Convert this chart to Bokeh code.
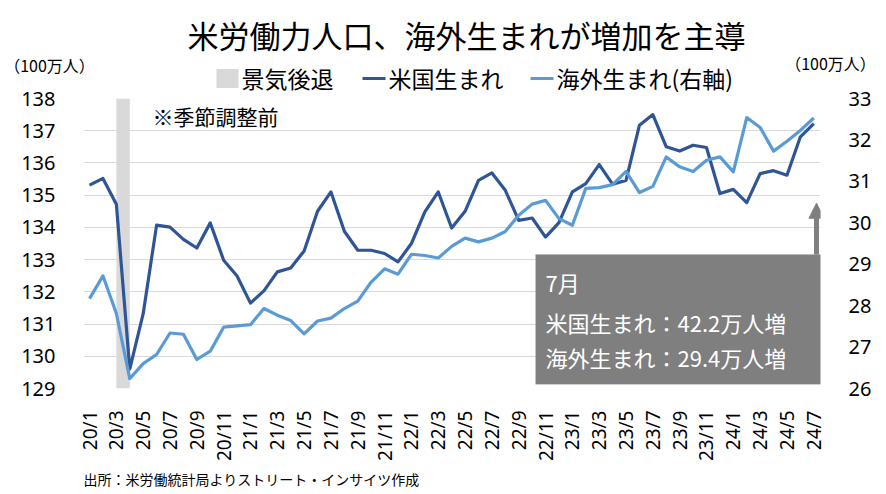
from bokeh.plotting import figure
from bokeh.models import (Range1d, LinearAxis, FixedTicker, Label,
                          BoxAnnotation, Arrow, NormalHead)
from bokeh.core.properties import value
from bokeh.embed import file_html
from bokeh.resources import INLINE

# ---------------- data ----------------
months = list(range(55))  # 2020/1 .. 2024/7 (monthly index)
tick_pos = list(range(0, 55, 2))
tick_labels = ["20/1", "20/3", "20/5", "20/7", "20/9", "20/11",
               "21/1", "21/3", "21/5", "21/7", "21/9", "21/11",
               "22/1", "22/3", "22/5", "22/7", "22/9", "22/11",
               "23/1", "23/3", "23/5", "23/7", "23/9", "23/11",
               "24/1", "24/3", "24/5", "24/7"]

us_born = [135.31, 135.52, 134.72, 129.60, 131.32, 134.07, 134.01, 133.63, 133.36, 134.14,
           132.98, 132.49, 131.65, 132.03, 132.62, 132.74, 133.27, 134.50, 135.10, 133.88,
           133.29, 133.29, 133.19, 132.93, 133.50, 134.48, 135.10, 133.98, 134.50, 135.46,
           135.69, 135.15, 134.22, 134.29, 133.70, 134.15, 135.10, 135.36, 135.95, 135.34,
           135.46, 137.17, 137.50, 136.50, 136.37, 136.55, 136.48, 135.05, 135.18, 134.77,
           135.67, 135.76, 135.62, 136.81, 137.22]

foreign_born = [28.17, 28.72, 27.81, 26.24, 26.60, 26.82, 27.34, 27.31, 26.70, 26.90,
                27.48, 27.51, 27.54, 27.93, 27.77, 27.64, 27.32, 27.63, 27.70, 27.93,
                28.11, 28.57, 28.89, 28.76, 29.24, 29.21, 29.15, 29.43, 29.63, 29.54,
                29.63, 29.79, 30.18, 30.45, 30.54, 30.10, 29.94, 30.83, 30.85, 30.92,
                31.24, 30.73, 30.88, 31.59, 31.35, 31.24, 31.51, 31.59, 31.23, 32.54,
                32.30, 31.73, 31.97, 32.23, 32.53]

recession_start = [2]   # 2020/3
recession_end = [3]     # 2020/4

left_ticks = [129, 130, 131, 132, 133, 134, 135, 136, 137, 138]
right_ticks = [26, 27, 28, 29, 30, 31, 32, 33]

title_text = "米労働力人口、海外生まれが増加を主導"
unit_text = "（100万人）"
legend_labels = ["景気後退", "米国生まれ", "海外生まれ(右軸)"]
note_text = "※季節調整前"
box_lines = ["7月", "米国生まれ：42.2万人増", "海外生まれ：29.4万人増"]
source_text = "出所：米労働統計局よりストリート・インサイツ作成"

# ---------------- style ----------------
DARK = "#2f5597"
LIGHT = "#5b9bd5"
GRAY_BAND = "#d9d9d9"
GRID = "#d9d9d9"
BOX = "#7f7f7f"
JP = "Noto Sans CJK JP"
NUM = "Noto Sans"
W = 886
TOP_H = 100          # header canvas (0..100)
OVERLAP = 30         # main canvas starts at y=70 (transparent border over header)
MAIN_TOP = TOP_H - OVERLAP
BOT_H = 30
MAIN_H = 494 - MAIN_TOP - BOT_H


def blank(h):
    f = figure(width=W, height=h, output_backend="svg", toolbar_location=None,
               x_range=Range1d(0, W), y_range=Range1d(h, 0),
               x_axis_type=None, y_axis_type=None,
               min_border=0, min_border_left=0, min_border_right=0,
               min_border_top=0, min_border_bottom=0)
    f.outline_line_color = None
    f.grid.visible = False
    return f


# ---------------- header (title, units, legend) ----------------
top = blank(TOP_H)
top.text(x=[466], y=[34], text=[title_text], text_font=value(JP), text_font_size=value("31px"),
         text_color="#000000", text_align="center", text_baseline="middle")
top.text(x=[49, 830], y=[64, 62], text=[unit_text, unit_text], text_font=value(JP),
         text_font_size=value("16px"), text_color="#000000", text_align="center",
         text_baseline="middle")
top.rect(x=[227], y=[78], width=22, height=19, fill_color=GRAY_BAND, line_color=None)
top.line(x=[362, 385], y=[78, 78], line_color=DARK, line_width=3.2)
top.line(x=[530, 553], y=[78, 78], line_color=LIGHT, line_width=3.2)
top.text(x=[241, 388, 556], y=[77, 77, 77], text=legend_labels, text_font=value(JP),
         text_font_size=value("23px"), text_color="#000000", text_align="left",
         text_baseline="middle")

# ---------------- main chart ----------------
p = figure(width=W, height=MAIN_H, output_backend="svg", toolbar_location=None,
           x_range=Range1d(-0.45, 54.5), y_range=Range1d(129, 138),
           min_border_left=83, min_border_right=66, min_border_top=98 - MAIN_TOP,
           min_border_bottom=MAIN_H - (98 - MAIN_TOP) - 291)
p.styles = {"margin-top": f"-{OVERLAP}px"}
p.outline_line_color = None
p.border_fill_color = None
p.background_fill_color = "white"
p.extra_y_ranges = {"right": Range1d(26, 33)}

p.quad(left=recession_start, right=recession_end, bottom=[129], top=[138],
       fill_color=GRAY_BAND, line_color=None)
p.line(months, us_born, line_color=DARK, line_width=3.2, line_join="round")
p.line(months, foreign_born, line_color=LIGHT, line_width=3.2, line_join="round",
       y_range_name="right")

p.xaxis.ticker = FixedTicker(ticks=tick_pos)
p.xaxis.major_label_overrides = {t: l for t, l in zip(tick_pos, tick_labels)}
p.xaxis.major_label_orientation = 3.14159265 / 2
p.xaxis.major_label_text_font = NUM
p.xaxis.major_label_text_font_size = "19px"
p.xaxis.major_label_text_color = "#000000"
p.xaxis.major_label_standoff = 16
p.xaxis.axis_line_color = None
p.xaxis.major_tick_line_color = None
p.xaxis.minor_tick_line_color = None

p.yaxis.ticker = FixedTicker(ticks=left_ticks)
p.yaxis.major_label_text_font = NUM
p.yaxis.major_label_text_font_size = "20px"
p.yaxis.major_label_text_color = "#000000"
p.yaxis.major_label_standoff = 22
p.yaxis.axis_line_color = None
p.yaxis.major_tick_line_color = None
p.yaxis.minor_tick_line_color = None

raxis = LinearAxis(y_range_name="right", ticker=FixedTicker(ticks=right_ticks))
raxis.major_label_text_font = NUM
raxis.major_label_text_font_size = "20px"
raxis.major_label_text_color = "#000000"
raxis.major_label_standoff = 22
raxis.axis_line_color = None
raxis.major_tick_line_color = None
raxis.minor_tick_line_color = None
p.add_layout(raxis, "right")

p.xgrid.grid_line_color = None
p.ygrid.grid_line_color = GRID
p.ygrid.grid_line_width = 1

box = BoxAnnotation(left=33.26, right=56, bottom=129.13, top=133.16,
                    fill_color=BOX, fill_alpha=1.0, line_color="#a6a6a6", line_width=1)
p.add_layout(box)
p.add_layout(Arrow(end=NormalHead(size=15, fill_color=BOX, line_color=BOX),
                   x_start=54.2, y_start=133.16, x_end=54.2, y_end=134.75,
                   line_color=BOX, line_width=5))

box_y = [132.30, 131.06, 129.97]
for t, yy in zip(box_lines, box_y):
    p.add_layout(Label(x=34.0, y=yy, text=t, text_font=JP, text_font_size="22px",
                       text_color="white", text_baseline="middle", text_align="left"))

p.add_layout(Label(x=69, y=273, x_units="screen", y_units="screen", text=note_text,
                   text_font=JP, text_font_size="21px", text_color="#000000",
                   text_align="left", text_baseline="middle"))

# ---------------- footer ----------------
bot = blank(BOT_H)
bot.text(x=[83], y=[14], text=[source_text], text_font=value(JP),
         text_font_size=value("14px"), text_color="#000000", text_align="left",
         text_baseline="middle")

open("out.html", "w").write(file_html([top, p, bot], INLINE))
